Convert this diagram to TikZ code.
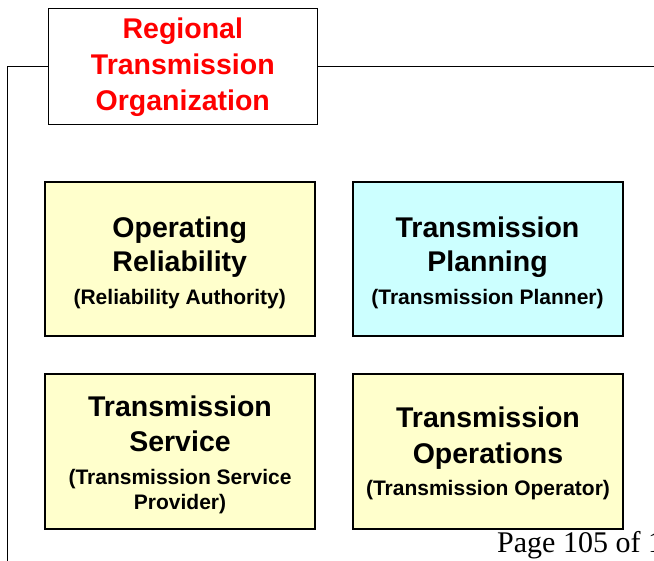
\documentclass[tikz,border=0pt]{standalone}
\usepackage{fontspec}
\setmainfont{Liberation Sans}
\newfontfamily\pagefont{Liberation Serif}
\definecolor{boxyellow}{HTML}{FFFFCC}
\definecolor{boxcyan}{HTML}{CCFFFF}
\definecolor{titlered}{HTML}{FF0000}
\begin{document}
\begin{tikzpicture}[x=1pt,y=-1pt,
  rolebox/.style={draw=black,line width=2pt,minimum width=270pt,minimum height=154pt,inner sep=0pt},
  headtxt/.style={anchor=base,inner sep=0pt,font=\bfseries\fontsize{28.5}{34}\selectfont},
  subtxt/.style={anchor=base,inner sep=0pt,font=\bfseries\fontsize{21}{25}\selectfont},
  titletxt/.style={anchor=base,inner sep=0pt,text=titlered,font=\bfseries\fontsize{28.5}{34}\selectfont},
  link/.style={draw=black,line width=1pt}]
\useasboundingbox (0,0) rectangle (654,561);
\clip (0,0) rectangle (654,561);
% top box
\node[draw=black,line width=1pt,fill=white,minimum width=269pt,minimum height=116pt,inner sep=0pt] (rto) at (182.8,66.2) {};
\node[titletxt] (rto1) at (182.8,38.5) {Regional};
\node[titletxt] (rto2) at (182.8,75) {Transmission};
\node[titletxt] (rto3) at (182.8,110.5) {Organization};
\coordinate (lbot) at (7,561);
\coordinate (rend) at (654,66.2);
\draw[link] (rto.west) -| (lbot);
\draw[link] (rto.east) -- (rend);
% role boxes
\node[rolebox,fill=boxyellow] (or) at (179.75,258.75) {};
\node[rolebox,fill=boxcyan] (tp) at (487.5,258.75) {};
\node[rolebox,fill=boxyellow] (ts) at (180,451.5) {};
\node[rolebox,fill=boxyellow] (to) at (488,451.5) {};
% texts
\node[headtxt] (or1) at (179.75,238) {Operating};
\node[headtxt] (or2) at (179.75,272) {Reliability};
\node[subtxt] (or3) at (179.75,305) {(Reliability Authority)};
\node[headtxt] (tp1) at (487.5,238) {Transmission};
\node[headtxt] (tp2) at (487.5,272) {Planning};
\node[subtxt] (tp3) at (487.5,305) {(Transmission Planner)};
\node[headtxt] (ts1) at (180,417) {Transmission};
\node[headtxt] (ts2) at (180,452) {Service};
\node[subtxt] (ts3) at (180,485) {(Transmission Service};
\node[subtxt] (ts4) at (180,510) {Provider)};
\node[headtxt] (to1) at (488,428) {Transmission};
\node[headtxt] (to2) at (488,463.5) {Operations};
\node[subtxt] (to3) at (488,495.5) {(Transmission Operator)};
% page footer
\node[anchor=base west,inner sep=0pt,font=\pagefont\fontsize{30}{34}\selectfont] (pg) at (497,552.5) {Page 105 of 1};
\end{tikzpicture}
\end{document}
